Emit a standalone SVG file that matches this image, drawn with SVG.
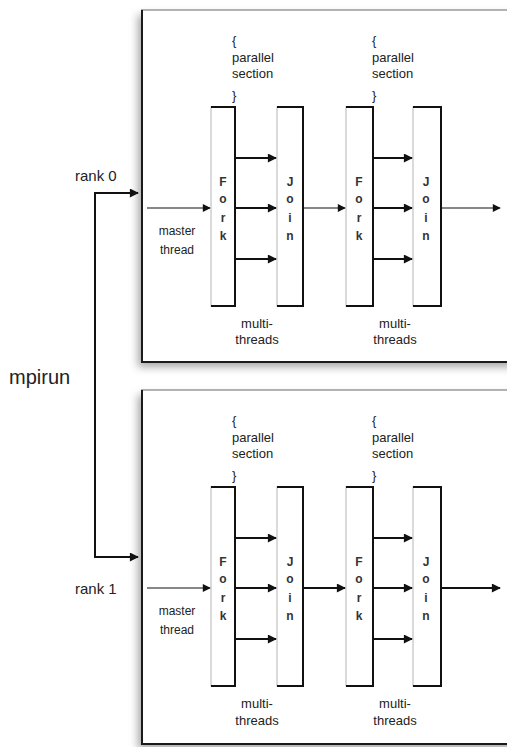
<svg xmlns="http://www.w3.org/2000/svg" width="507" height="747" viewBox="0 0 507 747">
  <defs>
    <filter id="panelShadow" x="-10%" y="-10%" width="130%" height="130%">
      <feDropShadow dx="-3" dy="5" stdDeviation="4" flood-color="#000" flood-opacity="0.35"/>
    </filter>
    <marker id="head" viewBox="0 0 10 10" refX="9" refY="5" markerWidth="12" markerHeight="9" markerUnits="userSpaceOnUse" orient="auto">
      <path d="M0,0 L10,5 L0,10 Z" fill="#111"/>
    </marker>
    <marker id="headSmall" viewBox="0 0 10 10" refX="9" refY="5" markerWidth="10" markerHeight="8" markerUnits="userSpaceOnUse" orient="auto">
      <path d="M0,0 L10,5 L0,10 Z" fill="#111"/>
    </marker>
  </defs>
  <style>
    text { font-family: "Liberation Sans", Arial, sans-serif; fill: #222; }
    .panel { fill: #fff; filter: url(#panelShadow); }
    .ptop { stroke: #9a9a9a; stroke-width: 1.5; }
    .pedge { stroke: #1a1a1a; stroke-width: 2; }
    .box { fill: #fff; stroke: #b5b5b5; stroke-width: 1; }
    .bedge { stroke: #111; stroke-width: 2; fill: none; }
    .wire { stroke: #111; stroke-width: 2; fill: none; marker-end: url(#head); }
    .rail { stroke: #111; stroke-width: 2; fill: none; }
    .thin { stroke: #111; stroke-width: 1.2; fill: none; marker-end: url(#headSmall); }
    .rank { font-size: 15px; }
    .mpi { font-size: 20px; }
    .small { font-size: 12px; }
    .sec { font-size: 13px; }
    .letter { font-size: 12px; font-weight: bold; text-anchor: middle; fill: #333; }
    .mid { text-anchor: middle; }
  </style>

  <!-- process panels -->
  <g id="panel-rank0">
    <rect class="panel" x="141" y="10" width="380" height="352"/>
    <line class="ptop" x1="141" y1="10" x2="507" y2="10"/>
    <line class="pedge" x1="142" y1="10" x2="142" y2="362"/>
    <line class="pedge" x1="141" y1="362" x2="507" y2="362"/>
  </g>
  <g id="panel-rank1">
    <rect class="panel" x="141" y="390" width="380" height="354"/>
    <line class="ptop" x1="141" y1="390" x2="507" y2="390"/>
    <line class="pedge" x1="142" y1="390" x2="142" y2="744"/>
    <line class="pedge" x1="141" y1="744" x2="507" y2="744"/>
  </g>

  <!-- fork / join bars, rank 0 -->
  <g id="fork1-r0">
    <rect class="box" x="211" y="107" width="24" height="199"/>
    <path class="bedge" d="M211,107 H235 V306 H211"/>
    <text class="letter" x="223" y="186">F</text>
    <text class="letter" x="223" y="203">o</text>
    <text class="letter" x="223" y="222">r</text>
    <text class="letter" x="223" y="240">k</text>
  </g>
  <g id="join1-r0">
    <rect class="box" x="277" y="107" width="26" height="199"/>
    <path class="bedge" d="M277,107 H303 V306 H277"/>
    <text class="letter" x="290" y="186">J</text>
    <text class="letter" x="290" y="203">o</text>
    <text class="letter" x="290" y="222">i</text>
    <text class="letter" x="290" y="240">n</text>
  </g>
  <g id="fork2-r0">
    <rect class="box" x="346" y="107" width="27" height="199"/>
    <path class="bedge" d="M346,107 H373 V306 H346"/>
    <text class="letter" x="359" y="186">F</text>
    <text class="letter" x="359" y="203">o</text>
    <text class="letter" x="359" y="222">r</text>
    <text class="letter" x="359" y="240">k</text>
  </g>
  <g id="join2-r0">
    <rect class="box" x="413" y="107" width="28" height="199"/>
    <path class="bedge" d="M413,107 H441 V306 H413"/>
    <text class="letter" x="426" y="186">J</text>
    <text class="letter" x="426" y="203">o</text>
    <text class="letter" x="426" y="222">i</text>
    <text class="letter" x="426" y="240">n</text>
  </g>

  <!-- fork / join bars, rank 1 -->
  <g id="fork1-r1">
    <rect class="box" x="211" y="487" width="24" height="199"/>
    <path class="bedge" d="M211,487 H235 V686 H211"/>
    <text class="letter" x="223" y="566">F</text>
    <text class="letter" x="223" y="583">o</text>
    <text class="letter" x="223" y="602">r</text>
    <text class="letter" x="223" y="620">k</text>
  </g>
  <g id="join1-r1">
    <rect class="box" x="277" y="487" width="26" height="199"/>
    <path class="bedge" d="M277,487 H303 V686 H277"/>
    <text class="letter" x="290" y="566">J</text>
    <text class="letter" x="290" y="583">o</text>
    <text class="letter" x="290" y="602">i</text>
    <text class="letter" x="290" y="620">n</text>
  </g>
  <g id="fork2-r1">
    <rect class="box" x="346" y="487" width="27" height="199"/>
    <path class="bedge" d="M346,487 H373 V686 H346"/>
    <text class="letter" x="359" y="566">F</text>
    <text class="letter" x="359" y="583">o</text>
    <text class="letter" x="359" y="602">r</text>
    <text class="letter" x="359" y="620">k</text>
  </g>
  <g id="join2-r1">
    <rect class="box" x="413" y="487" width="28" height="199"/>
    <path class="bedge" d="M413,487 H441 V686 H413"/>
    <text class="letter" x="426" y="566">J</text>
    <text class="letter" x="426" y="583">o</text>
    <text class="letter" x="426" y="602">i</text>
    <text class="letter" x="426" y="620">n</text>
  </g>

  <!-- labels -->
  <g id="labels">
    <text class="rank" x="75" y="181">rank 0</text>
    <text class="rank" x="75" y="594">rank 1</text>
    <text class="mpi" x="9" y="384">mpirun</text>

    <text class="small mid" x="177" y="235">master</text>
    <text class="small mid" x="177" y="254">thread</text>
    <text class="small mid" x="177" y="615">master</text>
    <text class="small mid" x="177" y="634">thread</text>

    <text class="sec" x="232" y="45">{</text>
    <text class="sec" x="232" y="62">parallel</text>
    <text class="sec" x="232" y="78">section</text>
    <text class="sec" x="232" y="100">}</text>
    <text class="sec" x="372" y="45">{</text>
    <text class="sec" x="372" y="62">parallel</text>
    <text class="sec" x="372" y="78">section</text>
    <text class="sec" x="372" y="100">}</text>

    <text class="sec" x="232" y="425">{</text>
    <text class="sec" x="232" y="442">parallel</text>
    <text class="sec" x="232" y="458">section</text>
    <text class="sec" x="232" y="480">}</text>
    <text class="sec" x="372" y="425">{</text>
    <text class="sec" x="372" y="442">parallel</text>
    <text class="sec" x="372" y="458">section</text>
    <text class="sec" x="372" y="480">}</text>

    <text class="sec mid" x="257" y="328">multi-</text>
    <text class="sec mid" x="257" y="344">threads</text>
    <text class="sec mid" x="395" y="328">multi-</text>
    <text class="sec mid" x="395" y="344">threads</text>
    <text class="sec mid" x="257" y="708">multi-</text>
    <text class="sec mid" x="257" y="725">threads</text>
    <text class="sec mid" x="395" y="708">multi-</text>
    <text class="sec mid" x="395" y="725">threads</text>
  </g>

  <!-- connectors -->
  <g id="connectors">
    <!-- mpirun launch -->
    <polyline class="rail" points="120,193 95,193 95,557 120,557"/>
    <line class="wire" x1="118" y1="193" x2="138" y2="193"/>
    <line class="wire" x1="118" y1="557" x2="138" y2="557"/>

    <!-- rank 0 -->
    <line class="thin" x1="147" y1="208" x2="210" y2="208"/>
    <line class="wire" x1="235" y1="158" x2="276" y2="158"/>
    <line class="wire" x1="235" y1="208" x2="276" y2="208"/>
    <line class="wire" x1="235" y1="259" x2="276" y2="259"/>
    <line class="thin" x1="303" y1="208" x2="345" y2="208"/>
    <line class="wire" x1="373" y1="158" x2="412" y2="158"/>
    <line class="wire" x1="373" y1="208" x2="412" y2="208"/>
    <line class="wire" x1="373" y1="259" x2="412" y2="259"/>
    <line class="thin" x1="441" y1="208" x2="500" y2="208"/>

    <!-- rank 1 -->
    <line class="thin" x1="147" y1="588" x2="210" y2="588"/>
    <line class="wire" x1="235" y1="538" x2="276" y2="538"/>
    <line class="wire" x1="235" y1="588" x2="276" y2="588"/>
    <line class="wire" x1="235" y1="639" x2="276" y2="639"/>
    <line class="wire" x1="303" y1="588" x2="345" y2="588"/>
    <line class="wire" x1="373" y1="538" x2="412" y2="538"/>
    <line class="wire" x1="373" y1="588" x2="412" y2="588"/>
    <line class="wire" x1="373" y1="639" x2="412" y2="639"/>
    <line class="wire" x1="441" y1="588" x2="500" y2="588"/>
  </g>
</svg>
